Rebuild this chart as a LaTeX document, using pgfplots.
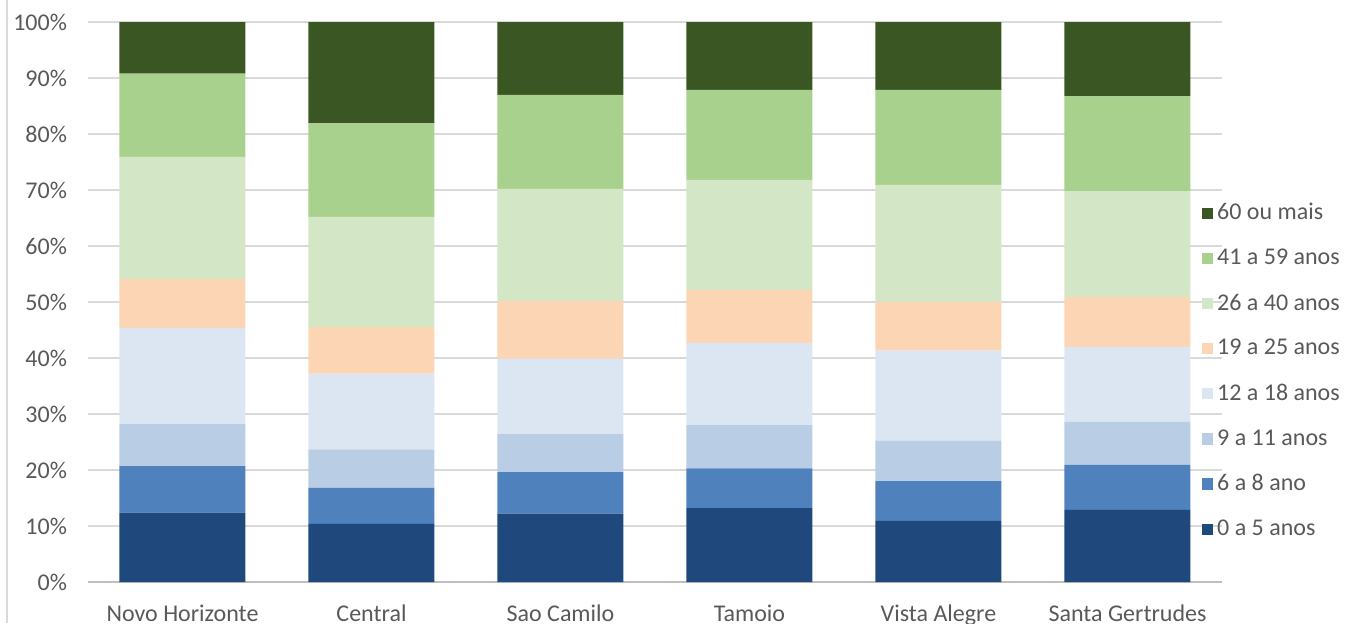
\documentclass[border=0pt]{standalone}
\usepackage{fontspec}
\setmainfont{Carlito}
\usepackage{pgfplots}
\pgfplotsset{compat=1.18}
\definecolor{c1}{HTML}{1F497D}
\definecolor{c2}{HTML}{4F81BD}
\definecolor{c3}{HTML}{B9CDE5}
\definecolor{c4}{HTML}{DCE6F2}
\definecolor{c5}{HTML}{FCD5B5}
\definecolor{c6}{HTML}{D3E7C6}
\definecolor{c7}{HTML}{A9D18E}
\definecolor{c8}{HTML}{3A5723}
\definecolor{txt}{HTML}{595959}
\definecolor{grd}{HTML}{D9D9D9}
\definecolor{axl}{HTML}{BFBFBF}
\begin{document}
\begin{tikzpicture}
\begin{axis}[
  at={(0,0)}, anchor=south west,
  scale only axis,
  width=567pt, height=280pt,
  ybar stacked, bar width=63pt,
  xmin=-0.5, xmax=5.5, ymin=0, ymax=100,
  xtick={0,1,2,3,4,5},
  xticklabels={Novo Horizonte,Central,Sao Camilo,Tamoio,Vista Alegre,Santa Gertrudes},
  ytick={0,10,20,30,40,50,60,70,80,90,100},
  yticklabels={0\%,10\%,20\%,30\%,40\%,50\%,60\%,70\%,80\%,90\%,100\%},
  ymajorgrids, grid style={draw=grd, line width=0.7pt},
  axis x line*=bottom, axis y line*=left,
  y axis line style={draw=none},
  x axis line style={draw=axl, line width=0.7pt, -},
  ytick style={draw=none},
  xtick style={draw=none},
  extra x ticks={-0.5,0.5,1.5,2.5,3.5,4.5,5.5},
  extra x tick labels={},
  extra x tick style={major tick length=4pt, tick align=outside, tick style={draw=axl, line width=0.7pt}, grid=none},
  tick label style={font=\fontsize{12}{14}\selectfont, text=txt},
  yticklabel style={xshift=-7pt},
  xticklabel style={yshift=-8pt},
  reverse legend,
  legend cell align=left,
  legend style={at={(0.982,0.684)}, anchor=north west, draw=none, fill=none,
    font=\fontsize{12}{14}\selectfont, text=txt, row sep=9.1pt, inner sep=0pt},
  legend image code/.code={\fill[#1] (0pt,-2.8pt) rectangle (5.6pt,2.8pt);},
  every axis plot/.append style={draw=none},
]
\addplot[fill=c1] coordinates {(0,12.4) (1,10.4) (2,12.2) (3,13.2) (4,10.9) (5,12.9)};
\addplot[fill=c2] coordinates {(0,8.3) (1,6.4) (2,7.4) (3,7.1) (4,7.1) (5,8.0)};
\addplot[fill=c3] coordinates {(0,7.5) (1,6.9) (2,6.8) (3,7.7) (4,7.2) (5,7.7)};
\addplot[fill=c4] coordinates {(0,17.2) (1,13.5) (2,13.5) (3,14.7) (4,16.1) (5,13.4)};
\addplot[fill=c5] coordinates {(0,8.7) (1,8.3) (2,10.3) (3,9.4) (4,8.7) (5,8.9)};
\addplot[fill=c6] coordinates {(0,21.8) (1,19.7) (2,20.0) (3,19.7) (4,20.9) (5,18.9)};
\addplot[fill=c7] coordinates {(0,14.9) (1,16.7) (2,16.8) (3,16.1) (4,17.0) (5,16.9)};
\addplot[fill=c8] coordinates {(0,9.2) (1,18.1) (2,13.0) (3,12.1) (4,12.1) (5,13.3)};
\legend{0 a 5 anos,6 a 8 ano,9 a 11 anos,12 a 18 anos,19 a 25 anos,26 a 40 anos,41 a 59 anos,60 ou mais}
\end{axis}
\draw[grd, line width=0.8pt] (-40.5pt,-20.5pt) -- (-40.5pt,291pt);
\pgfresetboundingbox
\path[use as bounding box] (-44pt,-20.5pt) rectangle (629pt,291pt);
\end{tikzpicture}
\end{document}
